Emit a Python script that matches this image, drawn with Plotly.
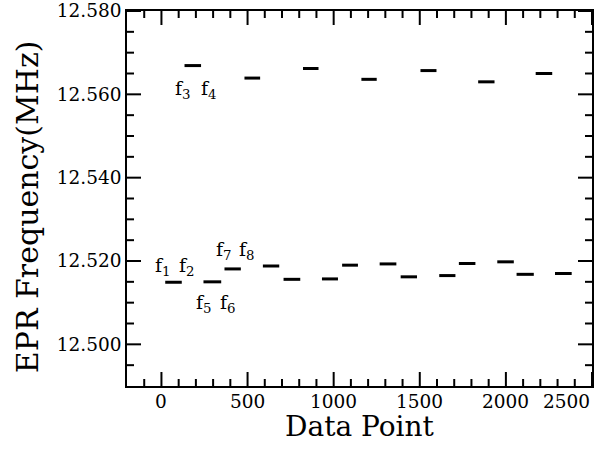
import plotly.graph_objects as go

# Blocks of data points (start index, end index, EPR frequency in MHz)
block_start = [22, 134, 244, 366, 482, 589, 709, 822, 932, 1049, 1161, 1267, 1389, 1504, 1613, 1727, 1839, 1950, 2062, 2173, 2285]
block_end = [118, 230, 347, 461, 573, 684, 806, 912, 1025, 1141, 1250, 1364, 1484, 1597, 1707, 1823, 1934, 2046, 2162, 2269, 2382]
block_freq = [12.5149, 12.5669, 12.5150, 12.5181, 12.5639, 12.5188, 12.5156, 12.5662,
              12.5157, 12.5190, 12.5636, 12.5193, 12.5162, 12.5657, 12.5165, 12.5194,
              12.5630, 12.5198, 12.5168, 12.5650, 12.5170]

# Labels of the transitions
label_text = ["f<sub>1</sub>", "f<sub>2</sub>", "f<sub>3</sub>", "f<sub>4</sub>",
              "f<sub>5</sub>", "f<sub>6</sub>", "f<sub>7</sub>", "f<sub>8</sub>"]
label_x = [10, 150, 126, 274, 246, 384, 361, 499]
label_y = [12.5188, 12.5188, 12.5611, 12.5611, 12.5098, 12.5098, 12.5225, 12.5225]

# Axis ticks
x_tick_vals = [0, 500, 1000, 1500, 2000, 2500]
x_tick_text = ["0", "500", "1000", "1500", "2000", "2500"]
x_minor_vals = [-100, 100, 200, 300, 400, 600, 700, 800, 900, 1100, 1200, 1300, 1400,
                1600, 1700, 1800, 1900, 2100, 2200, 2300, 2400]
y_tick_vals = [12.50, 12.52, 12.54, 12.56, 12.58]
y_minor_vals = [12.495, 12.505, 12.51, 12.515, 12.525, 12.53, 12.535, 12.545, 12.55,
                12.555, 12.565, 12.57, 12.575]

X_RANGE = [-200, 2500]
Y_RANGE = [12.49, 12.58]

FONT = "DejaVu Serif"
W, H = 613, 449
ML, MR, MT, MB = 127, 21, 11, 63
MAJOR_LEN, MINOR_LEN = 14, 7  # pixels

plot_w = W - ML - MR
plot_h = H - MT - MB
x_per_px = (X_RANGE[1] - X_RANGE[0]) / plot_w
y_per_px = (Y_RANGE[1] - Y_RANGE[0]) / plot_h

xs, ys = [], []
for s, e, f in zip(block_start, block_end, block_freq):
    xs += [s, e, None]
    ys += [f, f, None]

# inward tick marks on all four sides, placed through the data axes
tx, ty = [], []
for vals, ln in ((x_tick_vals, MAJOR_LEN), (x_minor_vals, MINOR_LEN)):
    d = ln * y_per_px
    for v in vals:
        tx += [v, v, None, v, v, None]
        ty += [Y_RANGE[0], Y_RANGE[0] + d, None, Y_RANGE[1], Y_RANGE[1] - d, None]
for vals, ln in ((y_tick_vals, MAJOR_LEN), (y_minor_vals, MINOR_LEN)):
    d = ln * x_per_px
    for v in vals:
        tx += [X_RANGE[0], X_RANGE[0] + d, None, X_RANGE[1], X_RANGE[1] - d, None]
        ty += [v, v, None, v, v, None]

fig = go.Figure()
fig.add_trace(go.Scatter(x=tx, y=ty, mode="lines",
                         line=dict(color="black", width=2),
                         hoverinfo="skip", showlegend=False))
fig.add_trace(go.Scatter(x=xs, y=ys, mode="lines",
                         line=dict(color="black", width=3),
                         hoverinfo="skip", showlegend=False))

annotations = []
for t, x, y in zip(label_text, label_x, label_y):
    annotations.append(dict(x=x, y=y, xref="x", yref="y", text=t, showarrow=False,
                            font=dict(family=FONT, size=19, color="black")))

for v, t in zip(x_tick_vals, x_tick_text):
    annotations.append(dict(x=v, y=0, xref="x", yref="paper", text=t, showarrow=False,
                            xanchor="right" if v == x_tick_vals[-1] else "center",
                            yanchor="top", yshift=-3,
                            font=dict(family=FONT, size=18.5, color="black")))

annotations.append(dict(x=0.5, y=-0.108, xref="paper", yref="paper", text="Data Point",
                        showarrow=False, xanchor="center", yanchor="middle",
                        font=dict(family=FONT, size=28, color="black")))
annotations.append(dict(x=-0.215, y=0.477, xref="paper", yref="paper",
                        text="EPR Frequency(MHz)", showarrow=False, textangle=-90,
                        xanchor="center", yanchor="middle",
                        font=dict(family=FONT, size=30, color="black")))

fig.update_layout(
    width=W, height=H,
    margin=dict(l=ML, r=MR, t=MT, b=MB, autoexpand=False),
    paper_bgcolor="white", plot_bgcolor="white",
    annotations=annotations,
    font=dict(family=FONT, size=18, color="black"),
)
fig.update_xaxes(range=X_RANGE, tickmode="array", tickvals=x_tick_vals,
                 showticklabels=False, ticks="",
                 showline=True, linecolor="black", linewidth=1.5,
                 mirror=True, showgrid=False, zeroline=False, automargin=False)
fig.update_yaxes(range=Y_RANGE, tickmode="array", tickvals=y_tick_vals,
                 tickformat=".3f", ticks="",
                 showline=True, linecolor="black", linewidth=1.5, mirror=True,
                 showgrid=False, zeroline=False, automargin=False,
                 tickfont=dict(family=FONT, size=18.5, color="black"))

fig.write_html("out.html", config={"displayModeBar": False},
               post_script="document.body.style.margin='0px';")
